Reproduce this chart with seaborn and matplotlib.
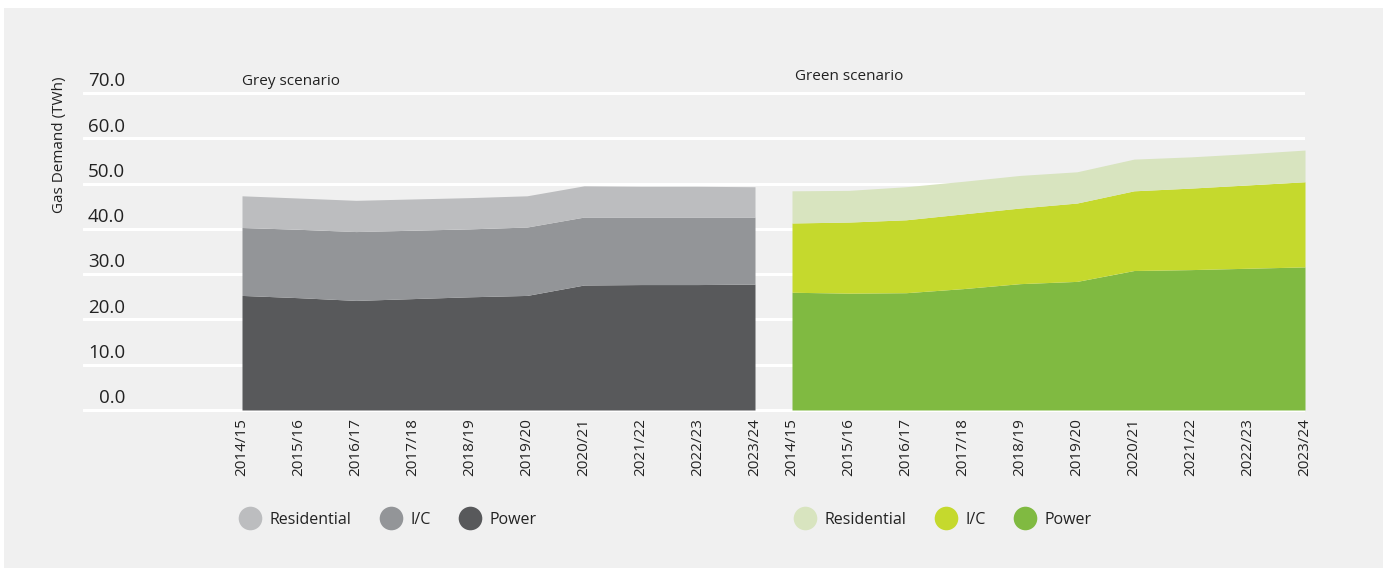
import numpy as np
import pandas as pd
import seaborn as sns
import matplotlib
matplotlib.use("Agg")
import matplotlib.pyplot as plt
from matplotlib.lines import Line2D
from matplotlib.patches import Rectangle

# ---------------- data ----------------
years = ["2014/15", "2015/16", "2016/17", "2017/18", "2018/19",
         "2019/20", "2020/21", "2021/22", "2022/23", "2023/24"]
series = ["Residential", "I/C", "Power"]

grey_power = [25.3, 24.8, 24.2, 24.6, 25.0, 25.3, 27.6, 27.7, 27.7, 27.8]
grey_ic = [15.0, 15.1, 15.2, 15.1, 15.0, 15.1, 15.0, 14.9, 14.9, 14.8]
grey_res = [7.0, 6.9, 6.9, 6.9, 6.9, 6.9, 6.9, 6.8, 6.8, 6.7]

green_power = [26.0, 25.8, 25.9, 26.8, 27.9, 28.4, 30.8, 31.0, 31.3, 31.6]
green_ic = [15.3, 15.7, 16.1, 16.5, 16.7, 17.3, 17.6, 18.0, 18.4, 18.8]
green_res = [7.1, 7.0, 7.3, 7.2, 7.2, 6.9, 7.0, 6.9, 6.9, 7.0]

y_ticks = [0, 10, 20, 30, 40, 50, 60, 70]

grey_colors = {"Residential": "#bcbdbf", "I/C": "#939598", "Power": "#58595b"}
green_colors = {"Residential": "#d8e4bf", "I/C": "#c5d92d", "Power": "#80ba41"}

# ---------------- style ----------------
BG = "#f0f0f0"
sns.set_theme(style="whitegrid", rc={
    "axes.facecolor": BG,
    "grid.color": "white",
    "grid.linewidth": 2.2,
})
plt.rcParams["font.family"] = ["Open Sans", "DejaVu Sans"]
TXT = "#222222"

W, H = 1383, 568
fig = plt.figure(figsize=(W / 100, H / 100), dpi=100, facecolor="white")
fig.patches.append(Rectangle((4 / W, 0), 1, 1 - 8 / H, transform=fig.transFigure,
                             facecolor=BG, edgecolor="none", zorder=-10))

# axes geometry in pixels
px_per_step = 57.0
x_left0 = 242.0
x_right0 = 792.0
ax_left_px, ax_right_px = 83.0, 1305.0
ppu = (410 - 93) / 70.0
ypad = 0.6
ax_bottom_px = 410 + ypad * ppu
ax_top_px = 93 - ypad * ppu

ax = fig.add_axes([ax_left_px / W, 1 - ax_bottom_px / H,
                   (ax_right_px - ax_left_px) / W, (ax_bottom_px - ax_top_px) / H])
ax.set_facecolor(BG)

offset_right = (x_right0 - x_left0) / px_per_step
idx = np.arange(len(years))
x_grey = idx.astype(float)
x_green = idx + offset_right

def stack(ax, x, res, ic, power, colors):
    p = np.array(power)
    c = p + np.array(ic)
    r = c + np.array(res)
    ax.fill_between(x, 0, p, color=colors["Power"], lw=0, zorder=2)
    ax.fill_between(x, p, c, color=colors["I/C"], lw=0, zorder=2)
    ax.fill_between(x, c, r, color=colors["Residential"], lw=0, zorder=2)

stack(ax, x_grey, grey_res, grey_ic, grey_power, grey_colors)
stack(ax, x_green, green_res, green_ic, green_power, green_colors)

ax.set_xlim((ax_left_px - x_left0) / px_per_step, (ax_right_px - x_left0) / px_per_step)
ax.set_ylim(-ypad, 70 + ypad)
ax.set_yticks(y_ticks)
ax.set_yticklabels([])
ax.tick_params(axis="y", length=0)
ax.grid(False, axis="x")
for s in ax.spines.values():
    s.set_visible(False)

ax.set_xticks(list(x_grey) + list(x_green))
ax.set_xticklabels(years + years, rotation=90, fontsize=11, color=TXT)
ax.tick_params(axis="x", length=0, pad=4)

# y tick labels above gridlines
lab_x = (125 - ax_left_px) / (ax_right_px - ax_left_px)
for v in y_ticks:
    ax.annotate(f"{v:.1f}", xy=(lab_x, v), xycoords=("axes fraction", "data"),
                xytext=(0, 2), textcoords="offset points",
                ha="right", va="bottom", fontsize=13.5, color=TXT)

ax.text(x_grey[0], (410 - 82) / ppu, "Grey scenario", ha="left", va="center",
        fontsize=11, color=TXT)
ax.text(x_green[0] + 3 / px_per_step, (410 - 77) / ppu, "Green scenario", ha="left",
        va="center", fontsize=11, color=TXT)

fig.text(60 / W, 1 - 145 / H, "Gas Demand (TWh)", rotation=90, ha="center",
         va="center", fontsize=11, color=TXT)

def legend_for(colors, x_px):
    handles = [Line2D([], [], marker="o", ls="none", markersize=17,
                      markerfacecolor=colors[s], markeredgecolor="none", label=s)
               for s in series]
    lg = fig.legend(handles=handles, ncol=3, loc="center left",
                    bbox_to_anchor=(x_px / W, 1 - 520 / H), frameon=False,
                    fontsize=11.5, handletextpad=0.65, columnspacing=1.85,
                    handlelength=1.2, borderpad=0, borderaxespad=0,
                    labelcolor=TXT)
    return lg

legend_for(grey_colors, 240)
legend_for(green_colors, 795)

fig.savefig("out.png", dpi=100, facecolor="white")
